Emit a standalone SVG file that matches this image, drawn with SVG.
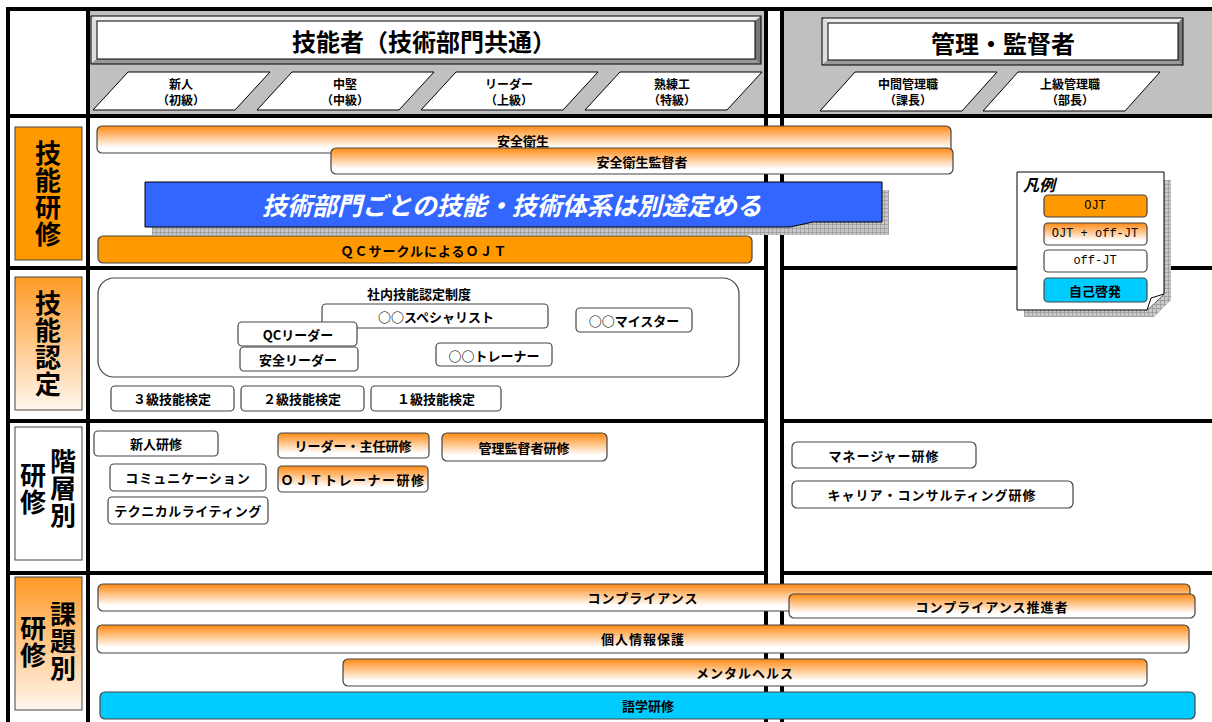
<svg xmlns="http://www.w3.org/2000/svg" width="1212" height="722" viewBox="0 0 1212 722">
<defs>
<linearGradient id="og" x1="0" y1="0" x2="0" y2="1">
<stop offset="0" stop-color="#ff8a14"/>
<stop offset="0.8" stop-color="#ffffff"/>
<stop offset="1" stop-color="#ffffff"/>
</linearGradient>
<linearGradient id="lg" x1="0" y1="0" x2="0" y2="1">
<stop offset="0" stop-color="#ff9a26"/>
<stop offset="1" stop-color="#fff6ee"/>
</linearGradient>
<pattern id="grid" width="4" height="4" patternUnits="userSpaceOnUse">
<rect width="4" height="4" fill="#c8c8c8"/>
<path d="M0,0.5H4M0.5,0V4" stroke="#9a9a9a" stroke-width="0.8"/>
</pattern>
<style>
.t{font-family:"Noto Sans CJK JP","Noto Sans CJK SC",sans-serif;font-weight:bold;fill:#000;text-anchor:middle;dominant-baseline:central;font-size:13px}
.big{font-size:24px}
.lv{font-size:12px}
.side{font-size:26px;writing-mode:vertical-rl;letter-spacing:1px}
.ln{stroke:#000;stroke-width:4;fill:none}
.wb{fill:#fff;stroke:#444;stroke-width:1.2}
.gb{fill:url(#og);stroke:#444;stroke-width:1.2}
.ob{fill:#ff9900;stroke:#444;stroke-width:1.2}
.cb{fill:#00ccff;stroke:#444;stroke-width:1.2}
.par{fill:#fff;stroke:#000;stroke-width:1}
.mono{font-family:"Liberation Mono","DejaVu Sans Mono",monospace;font-weight:normal;font-size:12px}
</style>
</defs>

<g id="background">
<rect x="8" y="9" width="1204" height="713" fill="#fff"/>
<rect x="88" y="9" width="678" height="107" fill="#c0c0c0"/>
<rect x="782" y="9" width="430" height="107" fill="#c0c0c0"/>
</g>

<g id="header-tech">
<rect x="91" y="16" width="670" height="48" fill="#888"/>
<polygon points="91,16 761,16 755,21 97,21" fill="#eee"/>
<polygon points="91,16 97,21 97,59 91,64" fill="#ddd"/>
<polygon points="761,16 761,64 755,59 755,21" fill="#777"/>
<polygon points="91,64 97,59 755,59 761,64" fill="#999"/>
<rect x="91" y="16" width="670" height="48" fill="none" stroke="#000" stroke-width="1"/>
<rect x="97" y="21" width="658" height="38" fill="#fff" stroke="#000" stroke-width="1"/>
<text class="t big" x="424" y="40">技能者（技術部門共通）</text>
</g>
<g id="level-1"><polygon class="par" points="128,72 270,72 235,110 93,110"/><text class="t lv" x="181" y="83">新人</text><text class="t lv" x="181" y="99">（初級）</text></g>
<g id="level-2"><polygon class="par" points="292,72 434,72 399,110 257,110"/><text class="t lv" x="345" y="83">中堅</text><text class="t lv" x="345" y="99">（中級）</text></g>
<g id="level-3"><polygon class="par" points="456,72 598,72 563,110 421,110"/><text class="t lv" x="509" y="83">リーダー</text><text class="t lv" x="509" y="99">（上級）</text></g>
<g id="level-4"><polygon class="par" points="620,72 762,72 727,110 585,110"/><text class="t lv" x="672" y="83">熟練工</text><text class="t lv" x="672" y="99">（特級）</text></g>

<g id="header-mgr">
<rect x="822" y="18" width="361" height="47" fill="#888"/>
<polygon points="822,18 1183,18 1178,23 828,23" fill="#eee"/>
<polygon points="822,18 828,23 828,60 822,65" fill="#ddd"/>
<polygon points="1183,18 1183,65 1178,60 1178,23" fill="#777"/>
<polygon points="822,65 828,60 1178,60 1183,65" fill="#999"/>
<rect x="822" y="18" width="361" height="47" fill="none" stroke="#000" stroke-width="1"/>
<rect x="828" y="23" width="350" height="37" fill="#fff" stroke="#000" stroke-width="1"/>
<text class="t big" x="1003" y="42">管理・監督者</text>
</g>
<g id="level-5"><polygon class="par" points="855,72 997,72 962,111 820,111"/><text class="t lv" x="908" y="83">中間管理職</text><text class="t lv" x="908" y="99">（課長）</text></g>
<g id="level-6"><polygon class="par" points="1018,72 1160,72 1125,111 983,111"/><text class="t lv" x="1070" y="83">上級管理職</text><text class="t lv" x="1070" y="99">（部長）</text></g>

<g id="side-labels">
<g id="side-1"><rect x="15" y="127" width="67" height="133" fill="#ff9900" stroke="#444" stroke-width="1"/>
<text class="t side" x="48" y="194">技能研修</text></g>
<g id="side-2"><rect x="15" y="277" width="67" height="133" fill="url(#lg)" stroke="#444" stroke-width="1"/>
<text class="t side" x="48" y="344">技能認定</text></g>
<g id="side-3"><rect x="15" y="427" width="67" height="133" fill="#fff" stroke="#444" stroke-width="1"/>
<text class="t side" x="63" y="489">階層別</text>
<text class="t side" x="33" y="489">研修</text></g>
<g id="side-4"><rect x="15" y="577" width="67" height="133" fill="url(#lg)" stroke="#444" stroke-width="1"/>
<text class="t side" x="63" y="642">課題別</text>
<text class="t side" x="33" y="642">研修</text></g>
</g>

<g id="connectors">
<line class="ln" x1="6" y1="9" x2="1212" y2="9"/>
<line class="ln" x1="6" y1="116" x2="1212" y2="116"/>
<line class="ln" x1="8" y1="9" x2="8" y2="722"/>
<line class="ln" x1="88" y1="9" x2="88" y2="722"/>
<line class="ln" x1="766" y1="9" x2="766" y2="722" stroke-width="3.5"/>
<line class="ln" x1="782" y1="9" x2="782" y2="722" stroke-width="3.5"/>
<line class="ln" x1="6" y1="268" x2="767" y2="268"/>
<line class="ln" x1="781" y1="268" x2="1212" y2="268"/>
<line class="ln" x1="6" y1="421" x2="767" y2="421"/>
<line class="ln" x1="781" y1="421" x2="1212" y2="421"/>
<line class="ln" x1="6" y1="573" x2="767" y2="573"/>
<line class="ln" x1="781" y1="573" x2="1212" y2="573"/>
</g>

<g id="row1">
<g id="anzen"><rect class="gb" x="97" y="126" width="854" height="27" rx="5"/><text class="t" x="523" y="140">安全衛生</text></g>
<g id="anzen-kantoku"><rect class="gb" x="331" y="148" width="622" height="26" rx="5"/><text class="t" x="642" y="161">安全衛生監督者</text></g>
<g id="banner">
<rect x="152" y="190" width="737" height="45" fill="url(#grid)"/>
<path d="M145,182 H882 V222 L813,222 L790,227 H145 Z" fill="#3366ff" stroke="#000" stroke-width="1"/>
<text class="t" x="512" y="204" style="fill:#fff;font-size:25px;font-style:italic">技術部門ごとの技能・技術体系は別途定める</text>
</g>
<g id="qc-ojt"><rect class="ob" x="98" y="236" width="654" height="27" rx="5"/><text class="t" x="424" y="250" style="letter-spacing:1px">ＱＣサークルによるＯＪＴ</text></g>
</g>

<g id="legend">
<path d="M1024,180 H1171 V300 L1154,317 H1024 Z" fill="url(#grid)"/>
<path d="M1017,172 H1164 V294 L1147,310 H1017 Z" fill="#fff" stroke="#000" stroke-width="1"/>
<path d="M1164,294 L1151,298 L1147,310" fill="#fff" stroke="#000" stroke-width="1"/>
<text class="t" x="1039" y="184" style="font-size:16px;font-style:italic">凡例</text>
<rect class="ob" x="1044" y="195" width="103" height="22" rx="4"/><text class="t mono" x="1095" y="206">OJT</text>
<rect class="gb" x="1044" y="223" width="103" height="22" rx="4"/><text class="t mono" x="1095" y="234">OJT + off-JT</text>
<rect class="wb" x="1044" y="250" width="103" height="22" rx="4"/><text class="t mono" x="1095" y="261">off-JT</text>
<rect class="cb" x="1044" y="278" width="103" height="24" rx="4"/><text class="t" x="1095" y="290">自己啓発</text>
</g>

<g id="row2">
<g id="shanai"><rect x="98" y="278" width="641" height="99" rx="16" fill="#fff" stroke="#444" stroke-width="1.2"/><text class="t" x="419" y="293">社内技能認定制度</text></g>
<g id="specialist"><rect class="wb" x="322" y="304" width="226" height="24" rx="4"/><text class="t" x="436" y="316">○○スペシャリスト</text></g>
<g id="qc-leader"><rect class="wb" x="238" y="322" width="119" height="24" rx="4"/><text class="t" x="298" y="334">QCリーダー</text></g>
<g id="anzen-leader"><rect class="wb" x="240" y="347" width="118" height="24" rx="4"/><text class="t" x="298" y="359">安全リーダー</text></g>
<g id="meister"><rect class="wb" x="576" y="308" width="116" height="24" rx="4"/><text class="t" x="634" y="320">○○マイスター</text></g>
<g id="trainer"><rect class="wb" x="436" y="343" width="116" height="23" rx="4"/><text class="t" x="494" y="355">○○トレーナー</text></g>
<g id="kentei3"><rect class="wb" x="111" y="386" width="123" height="25" rx="4"/><text class="t" x="172" y="398">３級技能検定</text></g>
<g id="kentei2"><rect class="wb" x="241" y="386" width="123" height="25" rx="4"/><text class="t" x="302" y="398">２級技能検定</text></g>
<g id="kentei1"><rect class="wb" x="371" y="386" width="130" height="25" rx="4"/><text class="t" x="436" y="398">１級技能検定</text></g>
</g>

<g id="row3">
<g id="shinjin"><rect class="wb" x="94" y="431" width="124" height="25" rx="4"/><text class="t" x="156" y="443">新人研修</text></g>
<g id="comm"><rect class="wb" x="110" y="464" width="156" height="27" rx="4"/><text class="t" x="188" y="477" style="letter-spacing:1px">コミュニケーション</text></g>
<g id="tech-writing"><rect class="wb" x="108" y="497" width="160" height="27" rx="4"/><text class="t" x="188" y="510" style="letter-spacing:0.5px">テクニカルライティング</text></g>
<g id="leader-shunin"><rect class="gb" x="278" y="433" width="151" height="25" rx="4"/><text class="t" x="353" y="445">リーダー・主任研修</text></g>
<g id="ojt-trainer"><rect class="gb" x="278" y="466" width="150" height="26" rx="4"/><text class="t" x="353" y="479" style="letter-spacing:1.5px">ＯＪＴトレーナー研修</text></g>
<g id="kanri"><rect class="gb" x="442" y="433" width="165" height="28" rx="5"/><text class="t" x="524" y="447">管理監督者研修</text></g>
<g id="manager"><rect class="wb" x="792" y="442" width="184" height="26" rx="5"/><text class="t" x="884" y="455" style="letter-spacing:1px">マネージャー研修</text></g>
<g id="career"><rect class="wb" x="792" y="481" width="281" height="27" rx="5"/><text class="t" x="932" y="494" style="letter-spacing:1px">キャリア・コンサルティング研修</text></g>
</g>

<g id="row4">
<g id="compliance"><rect class="gb" x="98" y="584" width="1092" height="27" rx="5"/><text class="t" x="643" y="597" style="letter-spacing:1px">コンプライアンス</text></g>
<g id="compliance-suishin"><rect class="gb" x="789" y="594" width="406" height="24" rx="5"/><text class="t" x="992" y="606" style="letter-spacing:1px">コンプライアンス推進者</text></g>
<g id="kojin"><rect class="gb" x="97" y="625" width="1092" height="28" rx="5"/><text class="t" x="643" y="638" style="letter-spacing:1px">個人情報保護</text></g>
<g id="mental"><rect class="gb" x="343" y="659" width="804" height="27" rx="5"/><text class="t" x="745" y="672" style="letter-spacing:1px">メンタルヘルス</text></g>
<g id="gogaku"><rect class="cb" x="100" y="692" width="1095" height="27" rx="5"/><text class="t" x="648" y="705">語学研修</text></g>
</g>
</svg>
